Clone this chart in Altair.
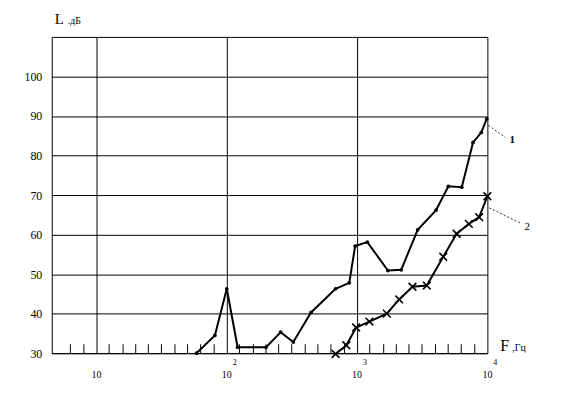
import altair as alt
import pandas as pd

# Curve 1 (dots)
f1 = [58.5, 81, 100, 121, 200, 259, 324, 443, 684, 871, 966, 1199, 1723, 2181,
      2918, 4040, 5020, 6360, 7760, 8970, 9900]
L1 = [30.0, 34.5, 46.3, 31.5, 31.5, 35.3, 32.8, 40.3, 46.3, 47.8, 57.1, 58.1,
      50.9, 51.1, 61.2, 66.2, 72.2, 72.0, 83.3, 85.8, 89.3]
# Curve 2 (crosses)
f2 = [684, 827, 983, 1243, 1691, 2103, 2661, 3428, 4583, 5807, 7210, 8650, 10000]
L2 = [29.8, 32.0, 36.5, 38.0, 40.0, 43.6, 46.8, 47.1, 54.4, 60.2, 62.7, 64.4, 69.7]

# third-octave minor ticks on the frequency axis
tick_freqs = [6.3, 8, 12.5, 16, 20, 25, 31.5, 40, 50, 63, 80,
              125, 160, 200, 250, 315, 400, 500, 630, 800,
              1250, 1600, 2000, 2500, 3150, 4000, 5000, 6300, 8000]
decades = [10, 100, 1000, 10000]
exponents = ["", "2", "3", "4"]
y_ticks = [30, 40, 50, 60, 70, 80, 90, 100]

FONT = "Liberation Serif"
W, H = 438, 318

d1 = pd.DataFrame({"f": f1, "L": L1, "i": range(len(f1))})
d2 = pd.DataFrame({"f": f2, "L": L2, "i": range(len(f2))})
dt = pd.DataFrame({"f": tick_freqs})
dd = pd.DataFrame({"f": decades, "e": exponents})

xs = alt.Scale(type="log", domain=[4.535, 10000], nice=False)
ys = alt.Scale(domain=[30, 110], nice=False, zero=False)

xax = alt.Axis(values=[10, 100, 1000], grid=True, gridColor="black", gridOpacity=1,
               gridWidth=1, labels=False, ticks=False, domain=False, title=None)
yax = alt.Axis(values=y_ticks, grid=True, gridColor="black", gridOpacity=1, gridWidth=1,
               ticks=False, domain=False, title=None, labelFont=FONT, labelFontSize=12,
               labelColor="black", labelPadding=10)

X = alt.X("f:Q", scale=xs, axis=xax)
Y = alt.Y("L:Q", scale=ys, axis=yax)

line1 = alt.Chart(d1).mark_line(color="black", strokeWidth=2).encode(x=X, y=Y, order="i:Q")
pts1 = alt.Chart(d1).mark_point(shape="circle", filled=True, color="black", size=14, opacity=1).encode(
    x=alt.X("f:Q", scale=xs), y=alt.Y("L:Q", scale=ys))
line2 = alt.Chart(d2).mark_line(color="black", strokeWidth=2).encode(
    x=alt.X("f:Q", scale=xs), y=alt.Y("L:Q", scale=ys), order="i:Q")
pts2 = alt.Chart(d2).mark_point(shape="M -1 -1 L 1 1 M 1 -1 L -1 1", filled=False,
                                color="black", size=60, strokeWidth=1.6, opacity=1).encode(
    x=alt.X("f:Q", scale=xs), y=alt.Y("L:Q", scale=ys))

ticks = alt.Chart(dt).mark_rule(color="black", strokeWidth=1).encode(
    x=alt.X("f:Q", scale=xs), y=alt.value(H), y2=alt.value(H - 9))

lab10 = alt.Chart(dd).mark_text(font=FONT, fontSize=10, color="black", baseline="middle").encode(
    x=alt.X("f:Q", scale=xs), y=alt.value(340), text=alt.value("10"))
labexp = alt.Chart(dd).mark_text(font=FONT, fontSize=8, color="black", baseline="middle", dx=8).encode(
    x=alt.X("f:Q", scale=xs), y=alt.value(328), text="e:N")

one = alt.Data(values=[{}])


def txt(s, x, y, size, align="left", baseline="alphabetic", weight="normal"):
    return alt.Chart(one).mark_text(font=FONT, fontSize=size, color="black", fontWeight=weight,
                                    align=align, baseline=baseline).encode(
        x=alt.value(x), y=alt.value(y), text=alt.value(s))


def leader(x1, y1, x2, y2):
    return alt.Chart(one).mark_rule(color="black", strokeWidth=0.8, strokeDash=[2, 2]).encode(
        x=alt.value(x1), y=alt.value(y1), x2=alt.value(x2), y2=alt.value(y2))


annots = [
    txt("L", 3, -13, 15),
    txt(".дБ", 16, -13, 10),
    txt("F", 451, 316, 16),
    txt(",Гц", 463, 316, 10),
    txt("1", 463, 104, 11, align="center", baseline="middle", weight="bold"),
    txt("2", 478, 191, 11, align="center", baseline="middle"),
    leader(439, 89, 456, 101),
    leader(440, 172, 471, 187),
]

chart = alt.layer(line1, ticks, pts1, line2, pts2, lab10, labexp, *annots).properties(
    width=W, height=H,
    autosize=alt.AutoSizeParams(type="none"),
    padding={"left": 44, "top": 28, "right": 70, "bottom": 45},
    background="white",
).configure_view(stroke="black", strokeWidth=1)

chart.save("out.html", embed_options={"renderer": "svg", "actions": False})
